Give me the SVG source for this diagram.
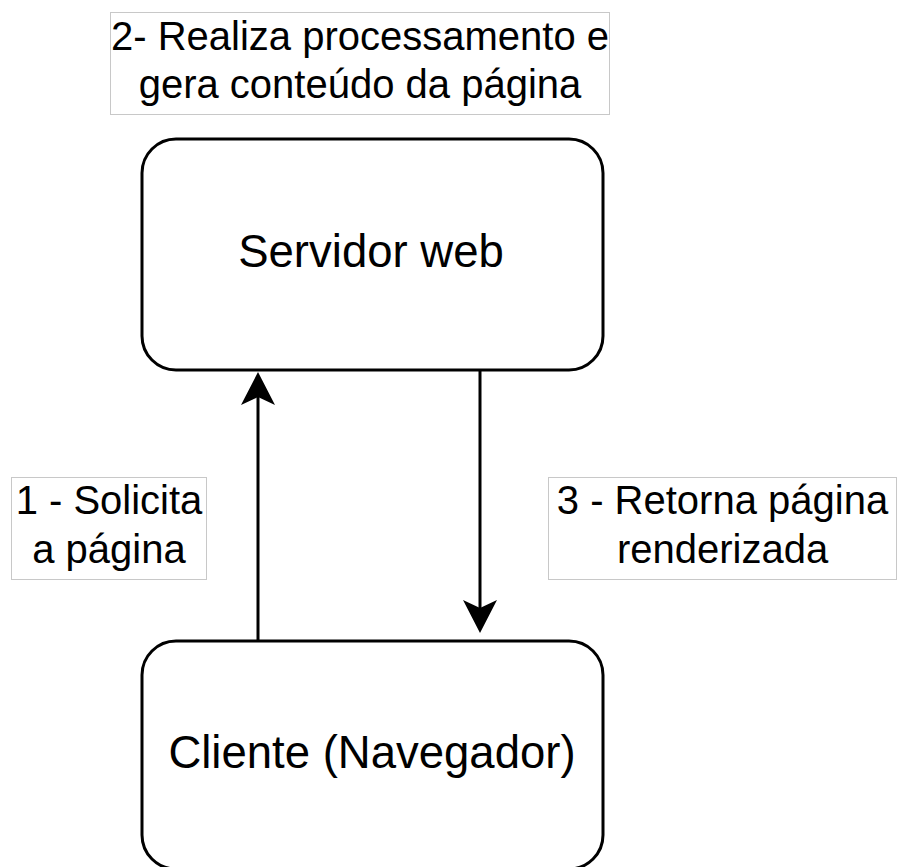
<svg xmlns="http://www.w3.org/2000/svg" width="901" height="867" viewBox="0 0 901 867">
  <style>
    .node { fill: #ffffff; stroke: #000000; stroke-width: 3; }
    .lbl { fill: #ffffff; stroke: #c8c8c8; stroke-width: 1; }
    .t { font-family: "Liberation Sans", Arial, sans-serif; font-size: 40px; fill: #000000; text-anchor: middle; }
    .tn { font-size: 45.5px; }
    .edge { fill: none; stroke: #000000; stroke-width: 3; }
  </style>
  <defs>
    <marker id="arrow" markerUnits="userSpaceOnUse" viewBox="0 -17 33 34" markerWidth="33" markerHeight="34" refX="8" refY="0" orient="auto" overflow="visible">
      <path d="M33,0 L0,-17 L8,0 L0,17 Z" fill="#000000"/>
    </marker>
  </defs>
  <rect width="901" height="867" fill="#ffffff"/>

  <g id="servidor">
    <rect class="node" x="142" y="139" width="461" height="231" rx="34" ry="34"/>
    <text class="t tn" x="371" y="267">Servidor web</text>
  </g>

  <g id="cliente">
    <rect class="node" x="142" y="641" width="461" height="228" rx="34" ry="34"/>
    <text class="t tn" x="372" y="768">Cliente (Navegador)</text>
  </g>

  <g id="connectors">
    <path class="edge" d="M258,641 V397" marker-end="url(#arrow)"/>
    <path class="edge" d="M480,370 V608" marker-end="url(#arrow)"/>
  </g>

  <g id="label-processa">
    <rect class="lbl" x="110.5" y="12.5" width="499" height="102"/>
    <text class="t" x="360" y="50">2- Realiza processamento e</text>
    <text class="t" x="360" y="98">gera conteúdo da página</text>
  </g>

  <g id="label-solicita">
    <rect class="lbl" x="11.5" y="477.5" width="195" height="102"/>
    <text class="t" x="109" y="514">1 - Solicita</text>
    <text class="t" x="109" y="563">a página</text>
  </g>

  <g id="label-retorna">
    <rect class="lbl" x="548.5" y="477.5" width="348" height="102"/>
    <text class="t" x="722.5" y="514">3 - Retorna página</text>
    <text class="t" x="722.5" y="563">renderizada</text>
  </g>
</svg>
